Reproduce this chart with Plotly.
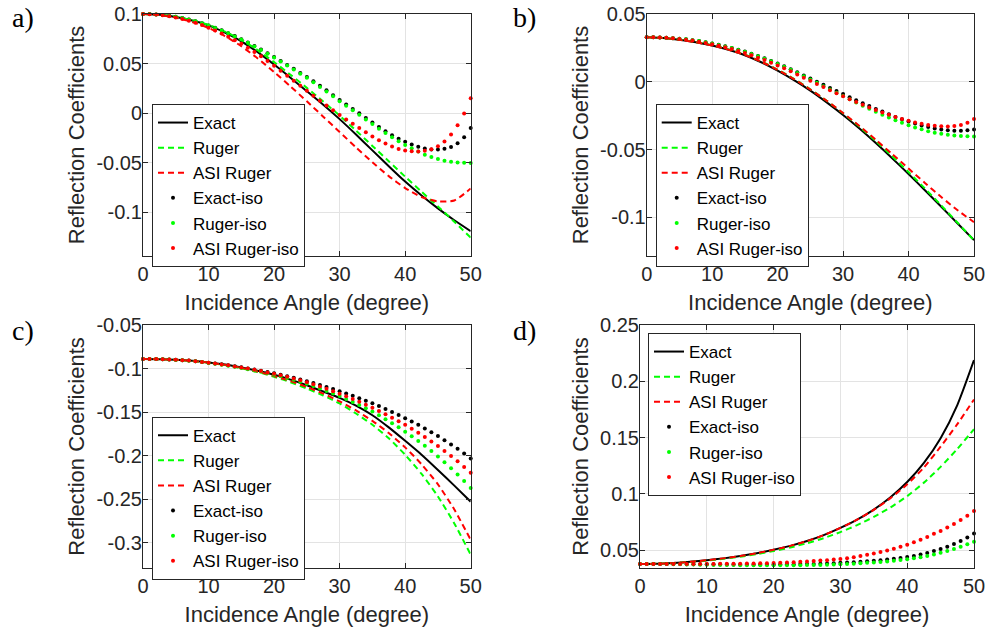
import plotly.graph_objects as go

# ---------------- data ----------------
ang_line = [0, 2.5, 5, 7.5, 10, 12.5, 15, 17.5, 20, 22.5, 25, 27.5, 30, 32.5, 35, 37.5, 40, 42.5, 45, 47.5, 50]
ang_dot = list(range(0, 51))

series_names = ["Exact", "Ruger", "ASI Ruger", "Exact-iso", "Ruger-iso", "ASI Ruger-iso"]
x_ticks = [0, 10, 20, 30, 40, 50]

# panel a
a_exact = [0.1000, 0.0992, 0.0970, 0.0934, 0.0885, 0.0812, 0.0725, 0.0615, 0.0490, 0.0358, 0.0222, 0.0085, -0.0060, -0.0215, -0.0375, -0.0535, -0.0690, -0.0830, -0.0960, -0.1080, -0.1190]
a_ruger = [0.1000, 0.0993, 0.0972, 0.0937, 0.0890, 0.0822, 0.0740, 0.0635, 0.0515, 0.0388, 0.0255, 0.0118, -0.0025, -0.0175, -0.0330, -0.0485, -0.0640, -0.0792, -0.0940, -0.1095, -0.1255]
a_asi = [0.1000, 0.0990, 0.0963, 0.0920, 0.0860, 0.0778, 0.0675, 0.0552, 0.0415, 0.0270, 0.0120, -0.0035, -0.0190, -0.0345, -0.0495, -0.0635, -0.0755, -0.0845, -0.0890, -0.0880, -0.0760]
a_exact_iso = [0.1000, 0.0999, 0.0996, 0.0990, 0.0982, 0.0972, 0.0959, 0.0944, 0.0927, 0.0907,
               0.0885, 0.0861, 0.0835, 0.0807, 0.0777, 0.0745, 0.0712, 0.0677, 0.0641, 0.0604,
               0.0566, 0.0527, 0.0487, 0.0447, 0.0406, 0.0365, 0.0321, 0.0276, 0.0230, 0.0182,
               0.0134, 0.0087, 0.0042, -0.0001, -0.0048, -0.0095, -0.0140, -0.0182, -0.0222, -0.0258,
               -0.0289, -0.0316, -0.0339, -0.0357, -0.0366, -0.0367, -0.0358, -0.0340, -0.0302, -0.0243,
               -0.0149]
a_ruger_iso = [0.1000, 0.0999, 0.0996, 0.0990, 0.0982, 0.0972, 0.0959, 0.0944, 0.0927, 0.0906,
               0.0884, 0.0859, 0.0833, 0.0805, 0.0774, 0.0742, 0.0709, 0.0673, 0.0637, 0.0600,
               0.0561, 0.0521, 0.0481, 0.0440, 0.0398, 0.0356, 0.0311, 0.0265, 0.0218, 0.0170,
               0.0121, 0.0075, 0.0029, -0.0016, -0.0063, -0.0110, -0.0157, -0.0201, -0.0243, -0.0283,
               -0.0320, -0.0354, -0.0386, -0.0418, -0.0443, -0.0463, -0.0479, -0.0490, -0.0497, -0.0501,
               -0.0502]
a_asi_iso = [0.1000, 0.0998, 0.0994, 0.0987, 0.0977, 0.0965, 0.0950, 0.0932, 0.0912, 0.0888,
             0.0862, 0.0833, 0.0803, 0.0770, 0.0736, 0.0700, 0.0660, 0.0618, 0.0573, 0.0527,
             0.0478, 0.0428, 0.0377, 0.0326, 0.0276, 0.0226, 0.0176, 0.0126, 0.0077, 0.0029,
             -0.0018, -0.0063, -0.0106, -0.0150, -0.0193, -0.0234, -0.0272, -0.0306, -0.0336, -0.0360,
             -0.0377, -0.0385, -0.0386, -0.0379, -0.0363, -0.0334, -0.0285, -0.0215, -0.0122, -0.0003,
             0.0150]

# panel b
b_exact = [0.0328, 0.0323, 0.0310, 0.0292, 0.0268, 0.0236, 0.0196, 0.0144, 0.0082, 0.0012, -0.0065, -0.0152, -0.0245, -0.0345, -0.0452, -0.0564, -0.0680, -0.0800, -0.0922, -0.1045, -0.1168]
b_ruger = [0.0328, 0.0323, 0.0311, 0.0293, 0.0270, 0.0239, 0.0200, 0.0150, 0.0090, 0.0022, -0.0055, -0.0140, -0.0232, -0.0331, -0.0437, -0.0549, -0.0666, -0.0787, -0.0912, -0.1040, -0.1170]
b_asi = [0.0328, 0.0323, 0.0310, 0.0292, 0.0268, 0.0237, 0.0198, 0.0148, 0.0088, 0.0020, -0.0057, -0.0140, -0.0230, -0.0326, -0.0428, -0.0533, -0.0640, -0.0746, -0.0850, -0.0948, -0.1035]
b_exact_iso = [0.0328, 0.0328, 0.0327, 0.0325, 0.0322, 0.0318, 0.0313, 0.0307, 0.0300, 0.0292,
               0.0283, 0.0273, 0.0262, 0.0250, 0.0237, 0.0223, 0.0207, 0.0190, 0.0173, 0.0154,
               0.0135, 0.0114, 0.0093, 0.0070, 0.0047, 0.0024, 0.0001, -0.0022, -0.0045, -0.0068,
               -0.0091, -0.0114, -0.0136, -0.0158, -0.0179, -0.0200, -0.0220, -0.0240, -0.0259, -0.0277,
               -0.0293, -0.0308, -0.0322, -0.0334, -0.0344, -0.0352, -0.0358, -0.0361, -0.0361, -0.0358,
               -0.0352]
b_ruger_iso = [0.0328, 0.0328, 0.0327, 0.0325, 0.0322, 0.0318, 0.0313, 0.0307, 0.0300, 0.0291,
               0.0282, 0.0272, 0.0261, 0.0249, 0.0235, 0.0221, 0.0205, 0.0188, 0.0170, 0.0151,
               0.0131, 0.0110, 0.0088, 0.0065, 0.0041, 0.0017, -0.0008, -0.0032, -0.0057, -0.0081,
               -0.0105, -0.0129, -0.0153, -0.0176, -0.0199, -0.0221, -0.0243, -0.0264, -0.0284, -0.0303,
               -0.0321, -0.0337, -0.0351, -0.0364, -0.0375, -0.0384, -0.0391, -0.0396, -0.0400, -0.0402,
               -0.0403]
b_asi_iso = [0.0328, 0.0328, 0.0326, 0.0324, 0.0321, 0.0316, 0.0310, 0.0304, 0.0296, 0.0287,
             0.0277, 0.0266, 0.0254, 0.0241, 0.0227, 0.0212, 0.0196, 0.0178, 0.0160, 0.0140,
             0.0120, 0.0099, 0.0077, 0.0054, 0.0030, 0.0007, -0.0016, -0.0039, -0.0062, -0.0085,
             -0.0107, -0.0129, -0.0150, -0.0170, -0.0190, -0.0209, -0.0227, -0.0244, -0.0260, -0.0275,
             -0.0288, -0.0300, -0.0310, -0.0318, -0.0324, -0.0328, -0.0329, -0.0326, -0.0318, -0.0303,
             -0.0275]

# panel c
c_exact = [-0.0888, -0.0890, -0.0897, -0.0909, -0.0927, -0.0952, -0.0985, -0.1024, -0.1070, -0.1125, -0.1190, -0.1262, -0.1335, -0.1425, -0.1535, -0.1675, -0.1830, -0.1990, -0.2165, -0.2345, -0.2530]
c_ruger = [-0.0888, -0.0890, -0.0898, -0.0911, -0.0931, -0.0958, -0.0994, -0.1038, -0.1092, -0.1155, -0.1227, -0.1308, -0.1400, -0.1515, -0.1645, -0.1800, -0.1990, -0.2210, -0.2470, -0.2780, -0.3140]
c_asi = [-0.0888, -0.0890, -0.0897, -0.0910, -0.0929, -0.0955, -0.0990, -0.1032, -0.1083, -0.1142, -0.1210, -0.1287, -0.1375, -0.1480, -0.1600, -0.1740, -0.1905, -0.2100, -0.2330, -0.2620, -0.2970]
c_exact_iso = [-0.0888, -0.0888, -0.0889, -0.0891, -0.0894, -0.0897, -0.0901, -0.0906, -0.0913, -0.0921,
               -0.0930, -0.0939, -0.0949, -0.0960, -0.0971, -0.0983, -0.0996, -0.1009, -0.1023, -0.1038,
               -0.1053, -0.1069, -0.1086, -0.1104, -0.1123, -0.1143, -0.1164, -0.1186, -0.1209, -0.1233,
               -0.1258, -0.1284, -0.1311, -0.1339, -0.1368, -0.1398, -0.1430, -0.1463, -0.1497, -0.1532,
               -0.1569, -0.1607, -0.1646, -0.1687, -0.1730, -0.1775, -0.1822, -0.1871, -0.1922, -0.1976,
               -0.2032]
c_ruger_iso = [-0.0888, -0.0888, -0.0889, -0.0891, -0.0894, -0.0898, -0.0902, -0.0907, -0.0914, -0.0922,
               -0.0933, -0.0943, -0.0954, -0.0966, -0.0978, -0.0991, -0.1005, -0.1019, -0.1034, -0.1050,
               -0.1068, -0.1087, -0.1107, -0.1128, -0.1150, -0.1173, -0.1199, -0.1226, -0.1255, -0.1284,
               -0.1315, -0.1348, -0.1382, -0.1417, -0.1454, -0.1493, -0.1536, -0.1580, -0.1626, -0.1674,
               -0.1724, -0.1777, -0.1831, -0.1887, -0.1947, -0.2010, -0.2076, -0.2145, -0.2217, -0.2293,
               -0.2372]
c_asi_iso = [-0.0888, -0.0888, -0.0889, -0.0891, -0.0894, -0.0897, -0.0901, -0.0906, -0.0913, -0.0921,
             -0.0931, -0.0940, -0.0950, -0.0961, -0.0973, -0.0985, -0.0998, -0.1012, -0.1027, -0.1042,
             -0.1058, -0.1075, -0.1093, -0.1112, -0.1133, -0.1155, -0.1179, -0.1205, -0.1231, -0.1259,
             -0.1288, -0.1318, -0.1349, -0.1381, -0.1414, -0.1448, -0.1485, -0.1523, -0.1563, -0.1603,
             -0.1646, -0.1691, -0.1737, -0.1786, -0.1837, -0.1890, -0.1946, -0.2005, -0.2066, -0.2130,
             -0.2197]

# panel d
d_exact = [0.0376, 0.0378, 0.0385, 0.0395, 0.0409, 0.0426, 0.0447, 0.0472, 0.0502, 0.0537, 0.0580, 0.0633, 0.0697, 0.0770, 0.0860, 0.0970, 0.1105, 0.1275, 0.1495, 0.1790, 0.2190]
d_ruger = [0.0376, 0.0378, 0.0384, 0.0393, 0.0406, 0.0422, 0.0441, 0.0464, 0.0491, 0.0523, 0.0561, 0.0606, 0.0660, 0.0722, 0.0795, 0.0880, 0.0980, 0.1100, 0.1240, 0.1400, 0.1575]
d_asi = [0.0376, 0.0378, 0.0385, 0.0395, 0.0409, 0.0426, 0.0447, 0.0472, 0.0502, 0.0537, 0.0580, 0.0633, 0.0697, 0.0770, 0.0858, 0.0962, 0.1085, 0.1235, 0.1420, 0.1620, 0.1840]
d_exact_iso = [0.0376, 0.0376, 0.0376, 0.0376, 0.0375, 0.0375, 0.0375, 0.0374, 0.0374, 0.0374,
               0.0373, 0.0373, 0.0373, 0.0372, 0.0372, 0.0372, 0.0372, 0.0372, 0.0372, 0.0372,
               0.0372, 0.0373, 0.0373, 0.0374, 0.0375, 0.0376, 0.0377, 0.0379, 0.0381, 0.0383,
               0.0386, 0.0389, 0.0392, 0.0396, 0.0400, 0.0405, 0.0410, 0.0416, 0.0423, 0.0430,
               0.0438, 0.0448, 0.0460, 0.0474, 0.0491, 0.0510, 0.0530, 0.0553, 0.0580, 0.0612,
               0.0648]
d_ruger_iso = [0.0376, 0.0376, 0.0376, 0.0375, 0.0375, 0.0374, 0.0373, 0.0372, 0.0371, 0.0370,
               0.0369, 0.0368, 0.0367, 0.0366, 0.0366, 0.0365, 0.0365, 0.0364, 0.0364, 0.0364,
               0.0364, 0.0364, 0.0364, 0.0365, 0.0365, 0.0366, 0.0367, 0.0368, 0.0370, 0.0372,
               0.0374, 0.0376, 0.0379, 0.0382, 0.0386, 0.0390, 0.0394, 0.0399, 0.0405, 0.0411,
               0.0418, 0.0427, 0.0437, 0.0448, 0.0461, 0.0475, 0.0491, 0.0509, 0.0529, 0.0551,
               0.0575]
d_asi_iso = [0.0376, 0.0376, 0.0376, 0.0376, 0.0376, 0.0376, 0.0376, 0.0376, 0.0377, 0.0377,
             0.0377, 0.0377, 0.0378, 0.0378, 0.0379, 0.0379, 0.0380, 0.0381, 0.0382, 0.0383,
             0.0385, 0.0387, 0.0390, 0.0392, 0.0395, 0.0398, 0.0402, 0.0406, 0.0410, 0.0415,
             0.0420, 0.0428, 0.0437, 0.0447, 0.0458, 0.0470, 0.0483, 0.0497, 0.0512, 0.0529,
             0.0548, 0.0569, 0.0592, 0.0617, 0.0644, 0.0670, 0.0700, 0.0732, 0.0767, 0.0805,
             0.0847]

# y-axis ticks per panel
a_yticks = [-0.1, -0.05, 0, 0.05, 0.1]
a_ylabels = ["-0.1", "-0.05", "0", "0.05", "0.1"]
b_yticks = [-0.1, -0.05, 0, 0.05]
b_ylabels = ["-0.1", "-0.05", "0", "0.05"]
c_yticks = [-0.3, -0.25, -0.2, -0.15, -0.1, -0.05]
c_ylabels = ["-0.3", "-0.25", "-0.2", "-0.15", "-0.1", "-0.05"]
d_yticks = [0.05, 0.1, 0.15, 0.2, 0.25]
d_ylabels = ["0.05", "0.1", "0.15", "0.2", "0.25"]

panel_labels = ["a)", "b)", "c)", "d)"]

# ---------------- layout geometry ----------------
W, H = 987, 632
panels = [
    dict(data=(a_exact, a_ruger, a_asi, a_exact_iso, a_ruger_iso, a_asi_iso),
         px=(143, 470.7), py=(14, 256), yr=[-0.144, 0.1], yt=a_yticks, yl=a_ylabels,
         leg=(152, 104), lab=(10, 17)),
    dict(data=(b_exact, b_ruger, b_asi, b_exact_iso, b_ruger_iso, b_asi_iso),
         px=(646.7, 974), py=(14, 256), yr=[-0.1285, 0.05], yt=b_yticks, yl=b_ylabels,
         leg=(655.7, 104), lab=(511, 17)),
    dict(data=(c_exact, c_ruger, c_asi, c_exact_iso, c_ruger_iso, c_asi_iso),
         px=(143, 470.7), py=(325.3, 567.7), yr=[-0.329, -0.05], yt=c_yticks, yl=c_ylabels,
         leg=(152, 416.7), lab=(10, 330)),
    dict(data=(d_exact, d_ruger, d_asi, d_exact_iso, d_ruger_iso, d_asi_iso),
         px=(640, 974), py=(325.3, 567.7), yr=[0.0343, 0.25], yt=d_yticks, yl=d_ylabels,
         leg=(648, 333), lab=(511, 330)),
]

AX = "#262626"
FONT = "Liberation Sans, Arial, Helvetica, sans-serif"
colors = ["#000000", "#00ff00", "#ff0000"]

fig = go.Figure()
layout = dict(
    width=W, height=H,
    margin=dict(l=0, r=0, t=0, b=0, autoexpand=False),
    paper_bgcolor="white", plot_bgcolor="white",
    font=dict(family=FONT, color=AX, size=20),
    annotations=[],
)

for i, p in enumerate(panels):
    k = "" if i == 0 else str(i + 1)
    xa, ya = "x" + k, "y" + k
    lg = "legend" + k
    ex, ru, asi, exi, rui, asii = p["data"]
    line_series = [ex, ru, asi]
    dot_series = [exi, rui, asii]
    for j, ys in enumerate(line_series):
        fig.add_trace(go.Scatter(
            x=ang_line, y=ys, mode="lines", name=series_names[j],
            line=dict(color=colors[j], width=2,
                      dash="solid" if j == 0 else "6px,4px", shape="spline", smoothing=0.6),
            xaxis=xa, yaxis=ya, legend=lg, showlegend=True))
    for j, ys in enumerate(dot_series):
        fig.add_trace(go.Scatter(
            x=ang_dot, y=ys, mode="markers", name=series_names[3 + j],
            marker=dict(color=colors[j], size=4, line=dict(width=0)),
            cliponaxis=False,
            xaxis=xa, yaxis=ya, legend=lg, showlegend=True))

    x0, x1 = p["px"]
    y0, y1 = p["py"]
    common = dict(showline=True, linecolor=AX, linewidth=1, mirror="ticks",
                  ticks="inside", ticklen=5, tickcolor=AX, tickwidth=1,
                  showgrid=True, gridcolor="#e3e3e3", gridwidth=1, zeroline=False,
                  automargin=False,
                  tickfont=dict(family=FONT, size=20, color=AX))
    layout["xaxis" + k] = dict(common, domain=[x0 / W, x1 / W], range=[0, 50],
                               tickvals=x_ticks, ticktext=[str(v) for v in x_ticks],
                               anchor=ya, ticklabelstandoff=0,
                               title=dict(text="Incidence Angle (degree)",
                                          font=dict(family=FONT, size=22, color=AX), standoff=10))
    layout["yaxis" + k] = dict(common, domain=[1 - y1 / H, 1 - y0 / H], range=p["yr"],
                               tickvals=p["yt"], ticktext=p["yl"], anchor=xa,
                               ticklabelstandoff=-4,
                               title=dict(text="Reflection Coefficients",
                                          font=dict(family=FONT, size=22, color=AX), standoff=5))
    lx, ly = p["leg"]
    layout[lg] = dict(x=lx / W, y=1 - ly / H, xanchor="left", yanchor="top",
                      bgcolor="white", bordercolor=AX, borderwidth=1,
                      font=dict(family=FONT, size=17, color="#000000"),
                      itemwidth=30, tracegroupgap=0, traceorder="normal")
    bx, by = p["lab"]
    layout["annotations"].append(dict(
        text=panel_labels[i], x=bx / W, y=1 - by / H, xref="paper", yref="paper",
        xanchor="left", yanchor="middle", showarrow=False,
        font=dict(family="Liberation Serif, Times New Roman, serif", size=28, color="#000000")))

fig.update_layout(**layout)
fig.write_html("out.html", config={"displayModeBar": False},
               post_script="document.body.style.margin='0px';document.body.style.overflow='hidden';")
